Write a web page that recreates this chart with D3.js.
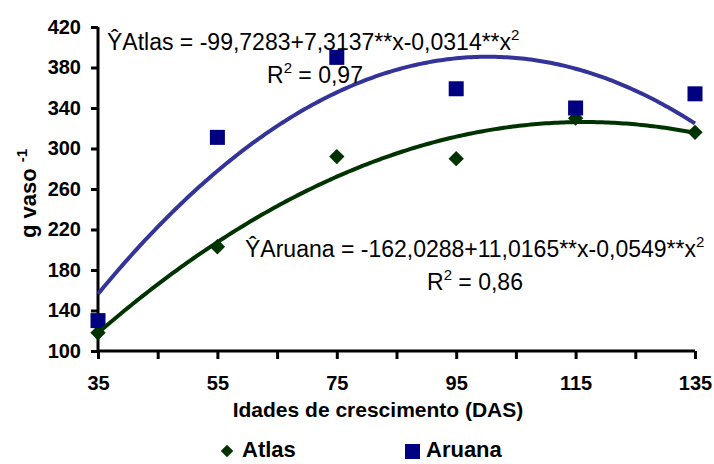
<!DOCTYPE html>
<html><head><meta charset="utf-8">
<script src="https://cdn.jsdelivr.net/npm/d3@7"></script>
<style>body{margin:0;background:#fff}svg{display:block}</style>
</head><body><svg id="c" width="714" height="464"></svg>
<script>
const days = [35, 55, 75, 95, 115, 135];
const atlas = [118, 203, 292, 290, 330, 316];
const aruana = [130, 311, 390, 359, 340, 354];
const xTickLabels = [35, 55, 75, 95, 115, 135];
const xMinorTicks = [35, 45, 55, 65, 75, 85, 95, 105, 115, 125, 135];
const yTicks = [100, 140, 180, 220, 260, 300, 340, 380, 420];
const atlasCoef = [-99.7283, 7.3137, -0.0314];
const aruanaCoef = [-162.0288, 11.0165, -0.0549];

const svg = d3.select('#c');
const x = d3.scaleLinear().domain([35, 135]).range([98, 695]);
const y = d3.scaleLinear().domain([100, 420]).range([351, 27]);
const font = 'Liberation Sans, Arial, sans-serif';

// Y axis
const ya = svg.append('g').attr('transform', 'translate(98,0)')
  .call(d3.axisLeft(y).tickValues(yTicks).tickSize(7).tickPadding(10));
ya.select('.domain').attr('stroke', '#000').attr('stroke-width', 3).attr('d', `M0,${y(420)}V${y(100)}`);
ya.selectAll('.tick line').attr('stroke', '#000').attr('stroke-width', 3);
ya.selectAll('.tick text').attr('font-family', font).attr('font-size', 20).attr('font-weight', 'bold').attr('fill', '#000');

// X axis
const xa = svg.append('g').attr('transform', 'translate(0,351)')
  .call(d3.axisBottom(x).tickValues(xMinorTicks).tickSize(8).tickPadding(17)
    .tickFormat(d => xTickLabels.includes(d) ? d : ''));
xa.select('.domain').attr('stroke', '#000').attr('stroke-width', 3).attr('d', `M${x(35)},0H${x(135)}`);
xa.selectAll('.tick line').attr('stroke', '#000').attr('stroke-width', 3);
xa.selectAll('.tick text').attr('font-family', font).attr('font-size', 20).attr('font-weight', 'bold').attr('fill', '#000');

// Axis titles
svg.append('text').attr('x', 378).attr('y', 417).attr('text-anchor', 'middle')
  .attr('font-family', font).attr('font-size', 21).attr('font-weight', 'bold')
  .text('Idades de crescimento (DAS)');
const yt = svg.append('text').attr('transform', 'translate(36,238) rotate(-90)')
  .attr('font-family', font).attr('font-size', 22).attr('font-weight', 'bold');
yt.append('tspan').text('g vaso ');
yt.append('tspan').attr('dy', -9).attr('font-size', 15).text('-1');

// Points
const sq = 15;
svg.append('g').selectAll('path').data(days).join('path')
  .attr('d', d3.symbol(d3.symbolDiamond2, 150)())
  .attr('transform', (d, i) => `translate(${x(d)},${y(atlas[i])})`)
  .attr('fill', '#003300');
svg.append('g').selectAll('rect').data(days).join('rect')
  .attr('x', d => x(d) - sq / 2).attr('y', (d, i) => y(aruana[i]) - sq / 2)
  .attr('width', sq).attr('height', sq).attr('fill', '#000080');

// Trend curves
const poly = c => v => c[0] + c[1] * v + c[2] * v * v;
const xs = d3.range(35, 135.001, 0.5);
const line = f => d3.line().x(v => x(v)).y(v => y(f(v))).curve(d3.curveLinear)(xs);
svg.append('path').attr('d', line(poly(aruanaCoef))).attr('fill', 'none').attr('stroke', '#333399').attr('stroke-width', 4);
svg.append('path').attr('d', line(poly(atlasCoef))).attr('fill', 'none').attr('stroke', '#003300').attr('stroke-width', 4);

// Equation labels
function eq(xp, yp, name, c0, c1, c2) {
  const t = svg.append('text').attr('x', xp).attr('y', yp)
    .attr('font-family', font).attr('font-size', 23).attr('fill', '#000');
  t.append('tspan').text(`Ŷ${name} = ${c0}+${c1}**x-${c2}**x`);
  t.append('tspan').attr('dy', -10).attr('font-size', 15).text('2');
}
function r2(xp, yp, v) {
  const t = svg.append('text').attr('x', xp).attr('y', yp)
    .attr('font-family', font).attr('font-size', 23).attr('fill', '#000');
  t.append('tspan').text('R');
  t.append('tspan').attr('dy', -10).attr('font-size', 15).text('2');
  t.append('tspan').attr('dy', 10).text(` = ${v}`);
}
eq(107, 50, 'Atlas', '-99,7283', '7,3137', '0,0314');
r2(267, 83, '0,97');
eq(245, 257, 'Aruana', '-162,0288', '11,0165', '0,0549');
r2(427, 290, '0,86');

// Legend
const lg = svg.append('g');
lg.append('path').attr('d', d3.symbol(d3.symbolDiamond2, 100)())
  .attr('transform', 'translate(227,451)').attr('fill', '#003300');
lg.append('text').attr('x', 242).attr('y', 457).attr('font-family', font)
  .attr('font-size', 22).attr('font-weight', 'bold').text('Atlas');
lg.append('rect').attr('x', 405).attr('y', 444).attr('width', 15).attr('height', 15).attr('fill', '#000080');
lg.append('text').attr('x', 426).attr('y', 457).attr('font-family', font)
  .attr('font-size', 22).attr('font-weight', 'bold').text('Aruana');
</script></body></html>
